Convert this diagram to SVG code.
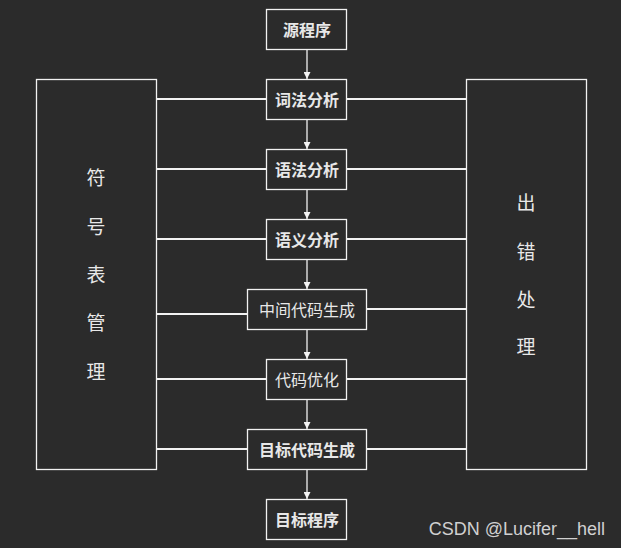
<svg xmlns="http://www.w3.org/2000/svg" width="621" height="548" viewBox="0 0 621 548">
<defs>
<style>
.box{fill:#2b2b2b;stroke:#f2f2f2;stroke-width:1.3}
.t{font-family:"Noto Sans CJK SC",sans-serif;font-size:16px;font-weight:bold;fill:#e8e8e8;text-anchor:middle;dominant-baseline:central}
.big{font-family:"Noto Sans CJK SC",sans-serif;font-size:19px;fill:#e8e8e8;text-anchor:middle;dominant-baseline:central}
.ln{stroke:#f2f2f2;stroke-width:2;fill:none}
.ar{stroke:#f2f2f2;stroke-width:1.3;fill:none;marker-end:url(#ah)}
</style>
<marker id="ah" viewBox="0 0 10 10" refX="10" refY="5" markerWidth="7" markerHeight="7" markerUnits="userSpaceOnUse" orient="auto">
<path d="M0,0 L10,5 L0,10 Z" fill="#f2f2f2"/>
</marker>
</defs>
<rect width="621" height="548" fill="#2b2b2b"/>
<g id="connectors">
<line class="ar" x1="307" y1="49" x2="307" y2="79"/>
<line class="ar" x1="307" y1="119" x2="307" y2="149"/>
<line class="ar" x1="307" y1="189" x2="307" y2="219"/>
<line class="ar" x1="307" y1="259" x2="307" y2="289"/>
<line class="ar" x1="307" y1="329" x2="307" y2="359"/>
<line class="ar" x1="307" y1="399" x2="307" y2="429"/>
<line class="ar" x1="307" y1="469" x2="307" y2="499"/>
<line class="ln" x1="157" y1="99" x2="266" y2="99"/>
<line class="ln" x1="347" y1="99" x2="466" y2="99"/>
<line class="ln" x1="157" y1="169" x2="266" y2="169"/>
<line class="ln" x1="347" y1="169" x2="466" y2="169"/>
<line class="ln" x1="157" y1="239" x2="266" y2="239"/>
<line class="ln" x1="347" y1="239" x2="466" y2="239"/>
<line class="ln" x1="157" y1="314" x2="247" y2="314"/>
<line class="ln" x1="367" y1="309" x2="466" y2="309"/>
<line class="ln" x1="157" y1="379" x2="266" y2="379"/>
<line class="ln" x1="347" y1="379" x2="466" y2="379"/>
<line class="ln" x1="157" y1="449" x2="247" y2="449"/>
<line class="ln" x1="367" y1="449" x2="466" y2="449"/>
</g>
<g id="symtab">
<rect class="box" x="36.5" y="79.5" width="120" height="390"/>
<text class="big" x="96" y="176">符</text>
<text class="big" x="96" y="225">号</text>
<text class="big" x="96" y="273">表</text>
<text class="big" x="96" y="321">管</text>
<text class="big" x="96" y="370">理</text>
</g>
<g id="errhandle">
<rect class="box" x="466.5" y="79.5" width="120" height="390"/>
<text class="big" x="526" y="201">出</text>
<text class="big" x="526" y="250">错</text>
<text class="big" x="526" y="298">处</text>
<text class="big" x="526" y="345">理</text>
</g>
<g id="src"><rect class="box" x="266.5" y="9.5" width="80" height="40"/><text class="t" x="307" y="29">源程序</text></g>
<g id="lex"><rect class="box" x="266.5" y="79.5" width="80" height="40"/><text class="t" x="307" y="99">词法分析</text></g>
<g id="syn"><rect class="box" x="266.5" y="149.5" width="80" height="40"/><text class="t" x="307" y="169">语法分析</text></g>
<g id="sem"><rect class="box" x="266.5" y="219.5" width="80" height="40"/><text class="t" x="307" y="239">语义分析</text></g>
<g id="ir"><rect class="box" x="247.5" y="289.5" width="119" height="40"/><text class="t" x="307" y="309" style="font-weight:normal">中间代码生成</text></g>
<g id="opt"><rect class="box" x="266.5" y="359.5" width="80" height="40"/><text class="t" x="307" y="379" style="font-weight:normal">代码优化</text></g>
<g id="codegen"><rect class="box" x="247.5" y="429.5" width="119" height="40"/><text class="t" x="307" y="449">目标代码生成</text></g>
<g id="target"><rect class="box" x="266.5" y="499.5" width="80" height="40"/><text class="t" x="307" y="519">目标程序</text></g>
<text x="605" y="535" font-family="Liberation Sans, Arial, sans-serif" font-size="18" fill="#d0d0d0" text-anchor="end">CSDN @Lucifer__hell</text>
</svg>
